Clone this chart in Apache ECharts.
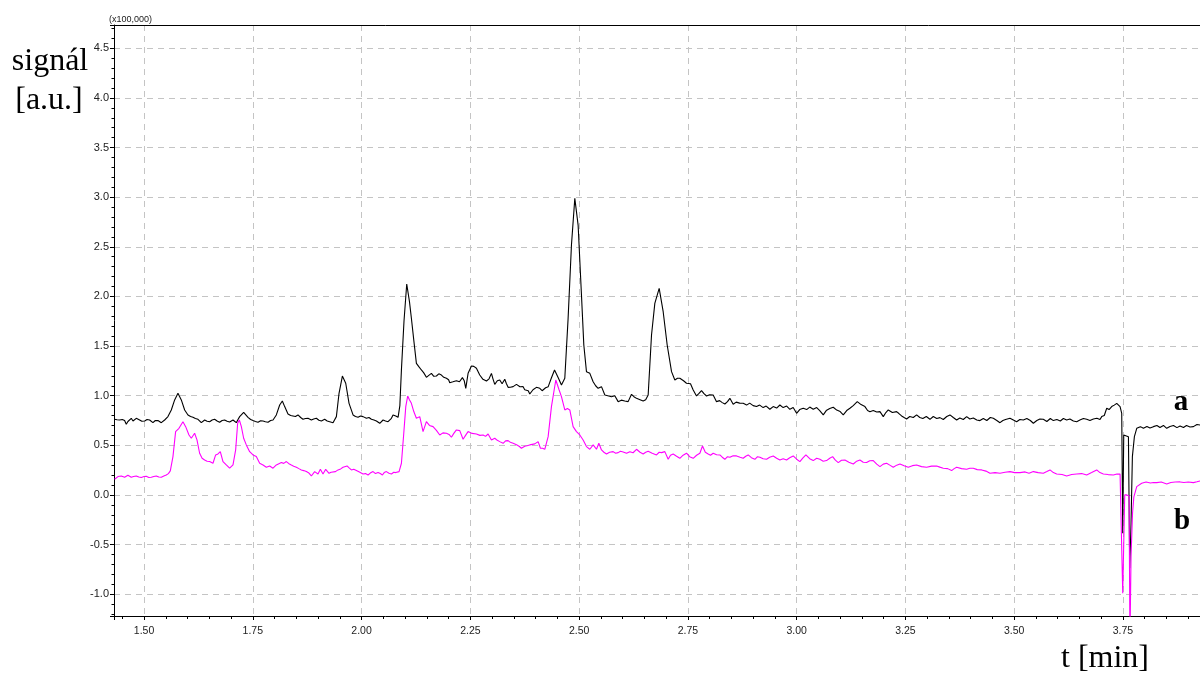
<!DOCTYPE html>
<html>
<head>
<meta charset="utf-8">
<script src="https://cdn.jsdelivr.net/npm/echarts@6/dist/echarts.min.js"></script>
<style>
  html, body { margin: 0; padding: 0; background: #fff; }
  #chart { width: 1200px; height: 675px; }
</style>
</head>
<body>
<div id="chart"></div>
<script>
// Chromatograms: retention time [min] vs. signal (units of 100,000)
const timeRange = [1.431, 3.927];
const signalRange = [-1.22, 4.735];
const timeStep = 0.25;
const signalStep = 0.5;

// trace a (black)
const traceA = [
  [1.4324,0.762],[1.4380,0.758],[1.4439,0.755],[1.4500,0.760],[1.4554,0.749],[1.4592,0.712],[1.4630,0.740],[1.4669,0.755],
  [1.4707,0.772],[1.4746,0.745],[1.4785,0.760],[1.4822,0.772],[1.4860,0.752],[1.4899,0.755],[1.4950,0.742],[1.5014,0.745],
  [1.5070,0.760],[1.5129,0.755],[1.5165,0.738],[1.5205,0.728],[1.5260,0.750],[1.5320,0.749],[1.5360,0.735],[1.5397,0.728],
  [1.5440,0.748],[1.5474,0.755],[1.5550,0.789],[1.5627,0.856],[1.5704,0.957],[1.5780,1.024],[1.5857,0.957],[1.5934,0.856],
  [1.6010,0.806],[1.6070,0.790],[1.6125,0.782],[1.6180,0.770],[1.6240,0.762],[1.6280,0.745],[1.6317,0.728],[1.6355,0.745],
  [1.6394,0.755],[1.6450,0.742],[1.6508,0.738],[1.6565,0.755],[1.6623,0.762],[1.6680,0.745],[1.6738,0.732],[1.6795,0.750],
  [1.6853,0.755],[1.6910,0.742],[1.6968,0.735],[1.7045,0.755],[1.7085,0.740],[1.7121,0.728],[1.7160,0.760],[1.7198,0.789],
  [1.7290,0.832],[1.7390,0.782],[1.7450,0.760],[1.7505,0.749],[1.7560,0.740],[1.7620,0.732],[1.7680,0.748],[1.7735,0.745],
  [1.7790,0.738],[1.7850,0.732],[1.7910,0.750],[1.7965,0.755],[1.8041,0.806],[1.8118,0.906],[1.8179,0.947],[1.8233,0.890],
  [1.8309,0.816],[1.8370,0.800],[1.8424,0.796],[1.8480,0.790],[1.8539,0.806],[1.8600,0.780],[1.8654,0.762],[1.8710,0.770],
  [1.8769,0.772],[1.8810,0.760],[1.8846,0.755],[1.8900,0.765],[1.8961,0.772],[1.9020,0.752],[1.9076,0.745],[1.9115,0.760],
  [1.9152,0.762],[1.9210,0.745],[1.9267,0.738],[1.9300,0.745],[1.9344,0.728],[1.9421,0.789],[1.9482,1.024],[1.9559,1.198],
  [1.9636,1.125],[1.9712,0.923],[1.9804,0.806],[1.9860,0.790],[1.9919,0.782],[1.9975,0.795],[2.0034,0.789],[2.0070,0.775],
  [2.0111,0.772],[2.0170,0.780],[2.0226,0.762],[2.0285,0.755],[2.0341,0.745],[2.0380,0.740],[2.0418,0.722],[2.0450,0.740],
  [2.0494,0.755],[2.0550,0.745],[2.0609,0.738],[2.0650,0.755],[2.0686,0.772],[2.0723,0.806],[2.0786,0.796],[2.0839,0.782],
  [2.0880,0.900],[2.0916,1.260],[2.0975,1.750],[2.1038,2.125],[2.1060,2.110],[2.1100,1.950],[2.1145,1.780],[2.1200,1.560],
  [2.1260,1.326],[2.1320,1.290],[2.1375,1.259],[2.1430,1.230],[2.1490,1.185],[2.1545,1.205],[2.1605,1.225],[2.1660,1.195],
  [2.1720,1.198],[2.1775,1.220],[2.1835,1.208],[2.1890,1.185],[2.1950,1.175],[2.2000,1.160],[2.2027,1.131],[2.2100,1.140],
  [2.2180,1.151],[2.2250,1.140],[2.2318,1.182],[2.2360,1.150],[2.2395,1.074],[2.2448,1.225],[2.2525,1.299],[2.2580,1.295],
  [2.2640,1.276],[2.2716,1.208],[2.2790,1.165],[2.2870,1.148],[2.2930,1.170],[2.2985,1.225],[2.3020,1.170],[2.3061,1.114],
  [2.3120,1.150],[2.3176,1.158],[2.3230,1.120],[2.3291,1.165],[2.3330,1.120],[2.3368,1.084],[2.3420,1.085],[2.3483,1.091],
  [2.3520,1.105],[2.3560,1.114],[2.3640,1.090],[2.3713,1.091],[2.3750,1.060],[2.3789,1.041],[2.3830,1.050],[2.3866,1.017],
  [2.3940,1.060],[2.4019,1.084],[2.4096,1.074],[2.4150,1.050],[2.4173,1.031],[2.4230,1.080],[2.4290,1.091],[2.4360,1.175],
  [2.4435,1.259],[2.4520,1.180],[2.4594,1.108],[2.4671,1.175],[2.4747,1.779],[2.4824,2.518],[2.4901,2.988],[2.4977,2.719],
  [2.5054,2.014],[2.5108,1.511],[2.5169,1.242],[2.5246,1.225],[2.5322,1.141],[2.5380,1.100],[2.5437,1.074],[2.5514,1.091],
  [2.5591,1.007],[2.5660,1.000],[2.5744,0.990],[2.5820,1.000],[2.5897,0.940],[2.5970,0.955],[2.6050,0.947],[2.6127,0.940],
  [2.6204,1.014],[2.6260,0.990],[2.6319,0.973],[2.6400,0.960],[2.6472,0.947],[2.6530,0.960],[2.6587,1.007],[2.6664,1.611],
  [2.6740,1.930],[2.6840,2.081],[2.6932,1.846],[2.7024,1.511],[2.7124,1.242],[2.7200,1.158],[2.7260,1.175],[2.7315,1.175],
  [2.7400,1.150],[2.7468,1.125],[2.7507,1.108],[2.7560,1.120],[2.7622,1.057],[2.7698,0.997],[2.7750,1.020],[2.7813,1.051],
  [2.7870,1.020],[2.7928,0.997],[2.8000,1.010],[2.8081,1.007],[2.8158,0.940],[2.8230,0.950],[2.8290,0.930],[2.8350,0.916],
  [2.8410,0.940],[2.8465,0.973],[2.8541,0.913],[2.8610,0.935],[2.8690,0.925],[2.8771,0.923],[2.8850,0.905],[2.8920,0.925],
  [2.9000,0.900],[2.9078,0.890],[2.9150,0.905],[2.9230,0.880],[2.9300,0.895],[2.9384,0.863],[2.9460,0.890],[2.9540,0.875],
  [2.9614,0.906],[2.9690,0.880],[2.9770,0.895],[2.9844,0.863],[2.9920,0.880],[2.9998,0.822],[3.0070,0.860],[3.0151,0.873],
  [3.0230,0.860],[3.0300,0.885],[3.0381,0.863],[3.0460,0.880],[3.0530,0.850],[3.0611,0.806],[3.0680,0.850],[3.0760,0.870],
  [3.0841,0.883],[3.0920,0.855],[3.1000,0.840],[3.1071,0.806],[3.1150,0.850],[3.1224,0.873],[3.1300,0.900],[3.1393,0.940],
  [3.1480,0.910],[3.1569,0.890],[3.1630,0.850],[3.1684,0.839],[3.1760,0.850],[3.1840,0.835],[3.1914,0.839],[3.1991,0.789],
  [3.2050,0.830],[3.2105,0.856],[3.2200,0.830],[3.2297,0.839],[3.2350,0.820],[3.2412,0.796],[3.2470,0.780],[3.2527,0.765],
  [3.2600,0.790],[3.2680,0.780],[3.2757,0.806],[3.2830,0.780],[3.2900,0.770],[3.2980,0.790],[3.3064,0.762],[3.3140,0.790],
  [3.3220,0.770],[3.3293,0.779],[3.3370,0.760],[3.3450,0.790],[3.3523,0.806],[3.3600,0.780],[3.3677,0.755],[3.3750,0.775],
  [3.3830,0.760],[3.3907,0.789],[3.3980,0.765],[3.4060,0.775],[3.4140,0.755],[3.4213,0.749],[3.4290,0.770],[3.4370,0.750],
  [3.4450,0.780],[3.4520,0.772],[3.4600,0.750],[3.4673,0.728],[3.4740,0.750],[3.4800,0.760],[3.4903,0.772],[3.4980,0.755],
  [3.5056,0.738],[3.5130,0.760],[3.5210,0.755],[3.5290,0.770],[3.5370,0.750],[3.5440,0.722],[3.5520,0.750],[3.5590,0.765],
  [3.5669,0.762],[3.5750,0.740],[3.5830,0.770],[3.5899,0.749],[3.5980,0.760],[3.6060,0.745],[3.6130,0.770],[3.6206,0.755],
  [3.6280,0.765],[3.6360,0.745],[3.6436,0.738],[3.6510,0.755],[3.6590,0.770],[3.6666,0.762],[3.6740,0.750],[3.6820,0.765],
  [3.6900,0.772],[3.6972,0.760],[3.7011,0.789],[3.7070,0.800],[3.7126,0.873],[3.7180,0.860],[3.7241,0.890],[3.7300,0.905],
  [3.7356,0.923],[3.7400,0.910],[3.7433,0.890],[3.7471,0.822],[3.7494,-0.386],[3.7517,0.604],[3.7625,0.587],[3.7655,-0.739],
  [3.7685,-0.285],[3.7716,0.386],[3.7762,0.587],[3.7816,0.671],[3.7900,0.688],[3.7969,0.671],[3.8050,0.690],[3.8120,0.675],
  [3.8199,0.688],[3.8280,0.700],[3.8350,0.680],[3.8430,0.700],[3.8505,0.671],[3.8580,0.690],[3.8660,0.700],[3.8740,0.678],
  [3.8812,0.695],[3.8890,0.680],[3.8960,0.700],[3.9040,0.685],[3.9118,0.688],[3.9200,0.710],[3.9272,0.705]
];

// trace b (magenta)
const traceB = [
  [1.4324,0.158],[1.4401,0.185],[1.4478,0.191],[1.4554,0.178],[1.4630,0.198],[1.4707,0.178],[1.4760,0.185],[1.4822,0.191],
  [1.4880,0.180],[1.4937,0.175],[1.5000,0.185],[1.5052,0.188],[1.5110,0.176],[1.5167,0.178],[1.5225,0.186],[1.5282,0.191],
  [1.5340,0.180],[1.5397,0.178],[1.5455,0.190],[1.5512,0.201],[1.5560,0.215],[1.5604,0.242],[1.5665,0.386],[1.5726,0.638],
  [1.5803,0.671],[1.5841,0.688],[1.5895,0.738],[1.5957,0.688],[1.6033,0.604],[1.6087,0.571],[1.6163,0.621],[1.6217,0.554],
  [1.6278,0.420],[1.6335,0.370],[1.6393,0.352],[1.6450,0.340],[1.6508,0.336],[1.6585,0.319],[1.6646,0.403],[1.6700,0.413],
  [1.6753,0.436],[1.6815,0.336],[1.6891,0.302],[1.6968,0.269],[1.7045,0.302],[1.7106,0.453],[1.7152,0.722],[1.7191,0.755],
  [1.7237,0.688],[1.7290,0.571],[1.7351,0.504],[1.7428,0.436],[1.7505,0.403],[1.7581,0.386],[1.7658,0.319],[1.7735,0.302],
  [1.7811,0.279],[1.7888,0.292],[1.7965,0.269],[1.8041,0.302],[1.8100,0.315],[1.8156,0.326],[1.8210,0.318],[1.8271,0.336],
  [1.8330,0.315],[1.8386,0.302],[1.8440,0.290],[1.8501,0.279],[1.8560,0.265],[1.8616,0.252],[1.8670,0.245],[1.8731,0.235],
  [1.8790,0.220],[1.8846,0.191],[1.8922,0.235],[1.8960,0.215],[1.8999,0.211],[1.9053,0.258],[1.9114,0.211],[1.9175,0.258],
  [1.9252,0.218],[1.9300,0.228],[1.9344,0.211],[1.9400,0.235],[1.9459,0.252],[1.9520,0.262],[1.9574,0.279],[1.9666,0.292],
  [1.9720,0.270],[1.9766,0.252],[1.9820,0.258],[1.9881,0.245],[1.9950,0.230],[2.0034,0.211],[2.0090,0.215],[2.0149,0.201],
  [2.0200,0.220],[2.0264,0.235],[2.0320,0.215],[2.0379,0.225],[2.0430,0.215],[2.0479,0.201],[2.0520,0.225],[2.0571,0.235],
  [2.0630,0.218],[2.0686,0.211],[2.0740,0.228],[2.0786,0.225],[2.0830,0.215],[2.0862,0.235],[2.0916,0.319],[2.0970,0.621],
  [2.1016,0.890],[2.1060,0.997],[2.1100,0.960],[2.1145,0.923],[2.1200,0.840],[2.1260,0.772],[2.1337,0.789],[2.1413,0.638],
  [2.1490,0.739],[2.1560,0.700],[2.1643,0.688],[2.1720,0.650],[2.1797,0.604],[2.1870,0.625],[2.1950,0.621],[2.2010,0.610],
  [2.2065,0.581],[2.2120,0.620],[2.2180,0.655],[2.2257,0.648],[2.2333,0.561],[2.2390,0.600],[2.2448,0.638],[2.2540,0.620],
  [2.2640,0.614],[2.2720,0.600],[2.2793,0.604],[2.2850,0.590],[2.2908,0.614],[2.2985,0.554],[2.3061,0.571],[2.3120,0.550],
  [2.3176,0.537],[2.3253,0.520],[2.3310,0.545],[2.3368,0.547],[2.3420,0.530],[2.3483,0.520],[2.3560,0.505],[2.3620,0.490],
  [2.3674,0.470],[2.3750,0.490],[2.3800,0.495],[2.3866,0.504],[2.3981,0.514],[2.4058,0.537],[2.4111,0.470],[2.4160,0.470],
  [2.4211,0.460],[2.4288,0.587],[2.4364,0.890],[2.4464,1.158],[2.4541,1.057],[2.4594,0.990],[2.4671,0.856],[2.4730,0.870],
  [2.4786,0.856],[2.4862,0.688],[2.4939,0.638],[2.5016,0.604],[2.5092,0.554],[2.5169,0.487],[2.5246,0.460],[2.5323,0.504],
  [2.5399,0.460],[2.5453,0.520],[2.5514,0.453],[2.5570,0.430],[2.5629,0.413],[2.5700,0.430],[2.5782,0.436],[2.5840,0.420],
  [2.5897,0.426],[2.5950,0.440],[2.6012,0.433],[2.6090,0.420],[2.6166,0.436],[2.6240,0.425],[2.6319,0.460],[2.6400,0.430],
  [2.6472,0.413],[2.6530,0.430],[2.6587,0.440],[2.6680,0.420],[2.6779,0.403],[2.6840,0.430],[2.6894,0.426],[2.6970,0.436],
  [2.7047,0.359],[2.7100,0.400],[2.7162,0.413],[2.7240,0.390],[2.7315,0.369],[2.7390,0.400],[2.7468,0.420],[2.7540,0.385],
  [2.7622,0.369],[2.7700,0.400],[2.7775,0.420],[2.7836,0.493],[2.7900,0.430],[2.7966,0.413],[2.8020,0.400],[2.8081,0.420],
  [2.8160,0.405],[2.8235,0.403],[2.8290,0.380],[2.8350,0.359],[2.8410,0.385],[2.8465,0.379],[2.8540,0.395],[2.8618,0.393],
  [2.8700,0.380],[2.8771,0.369],[2.8830,0.390],[2.8886,0.403],[2.8960,0.375],[2.9040,0.359],[2.9100,0.385],[2.9155,0.379],
  [2.9230,0.365],[2.9308,0.359],[2.9380,0.380],[2.9461,0.393],[2.9540,0.370],[2.9614,0.352],[2.9690,0.365],[2.9768,0.352],
  [2.9840,0.375],[2.9921,0.393],[3.0000,0.360],[3.0074,0.336],[3.0140,0.370],[3.0212,0.403],[3.0300,0.365],[3.0381,0.346],
  [3.0460,0.370],[3.0534,0.359],[3.0610,0.340],[3.0687,0.346],[3.0760,0.370],[3.0826,0.386],[3.0890,0.350],[3.0956,0.326],
  [3.1030,0.350],[3.1109,0.352],[3.1200,0.330],[3.1301,0.312],[3.1380,0.340],[3.1454,0.352],[3.1530,0.330],[3.1607,0.326],
  [3.1680,0.345],[3.1760,0.346],[3.1840,0.310],[3.1914,0.285],[3.1990,0.310],[3.2067,0.319],[3.2140,0.300],[3.2220,0.279],
  [3.2300,0.300],[3.2374,0.312],[3.2470,0.295],[3.2565,0.279],[3.2660,0.295],[3.2757,0.302],[3.2870,0.285],[3.2987,0.279],
  [3.3100,0.290],[3.3217,0.292],[3.3290,0.280],[3.3370,0.269],[3.3470,0.265],[3.3562,0.245],[3.3620,0.265],[3.3677,0.279],
  [3.3790,0.265],[3.3907,0.258],[3.3980,0.268],[3.4060,0.269],[3.4150,0.255],[3.4252,0.252],[3.4350,0.240],[3.4443,0.218],
  [3.4560,0.225],[3.4673,0.218],[3.4790,0.228],[3.4903,0.235],[3.5010,0.225],[3.5133,0.225],[3.5250,0.232],[3.5340,0.218],
  [3.5440,0.235],[3.5550,0.225],[3.5669,0.218],[3.5750,0.235],[3.5823,0.252],[3.5900,0.225],[3.5976,0.211],[3.6100,0.205],
  [3.6206,0.191],[3.6320,0.205],[3.6436,0.211],[3.6550,0.215],[3.6666,0.201],[3.6780,0.225],[3.6896,0.252],[3.6970,0.225],
  [3.7049,0.211],[3.7160,0.205],[3.7279,0.201],[3.7360,0.210],[3.7433,0.211],[3.7470,0.205],[3.7494,-0.990],[3.7540,0.000],
  [3.7586,0.000],[3.7640,-0.010],[3.7660,-1.500],[3.7685,-0.620],[3.7720,-0.180],[3.7750,-0.020],[3.7816,0.084],[3.7930,0.117],
  [3.8030,0.130],[3.8130,0.120],[3.8200,0.125],[3.8275,0.124],[3.8380,0.130],[3.8505,0.111],[3.8600,0.125],[3.8700,0.130],
  [3.8812,0.131],[3.8900,0.125],[3.9000,0.130],[3.9118,0.124],[3.9200,0.132],[3.9272,0.141]
];

const traceNames = ['a', 'b'];
const traceColors = ['#000000', '#ff00ff'];

const sansFont = '"Liberation Sans", Arial, sans-serif';
const serifFont = '"Liberation Serif", "Times New Roman", serif';

function isStep(v, step) {
  const k = v / step;
  return Math.abs(k - Math.round(k)) < 1e-6;
}

const gridLine = { show: true, showMinLine: false, showMaxLine: false,
  lineStyle: { color: '#c4c4c4', type: [6, 5], width: 1 } };

const chart = echarts.init(document.getElementById('chart'), null, { renderer: 'canvas' });
chart.setOption({
  animation: false,
  backgroundColor: '#ffffff',
  grid: { left: 114, right: 0, top: 25, bottom: 59, containLabel: false, outerBoundsMode: 'none' },
  xAxis: [{
    type: 'value',
    min: timeRange[0], max: timeRange[1],
    minInterval: timeStep, maxInterval: timeStep,
    axisLine: { show: true, onZero: false, lineStyle: { color: '#000', width: 1 } },
    axisTick: { show: true, inside: false, length: 4, lineStyle: { color: '#000' } },
    minorTick: { show: true, splitNumber: 5, length: 3, lineStyle: { color: '#000' } },
    axisLabel: {
      margin: 10, color: '#222', fontFamily: sansFont, fontSize: 10.5,
      showMinLabel: true, showMaxLabel: true,
      formatter: v => isStep(v, timeStep) ? v.toFixed(2) : ''
    },
    splitLine: gridLine
  }, {
    type: 'value', position: 'top',
    min: timeRange[0], max: timeRange[1],
    axisLine: { show: true, onZero: false, lineStyle: { color: '#000', width: 1 } },
    axisTick: { show: false }, axisLabel: { show: false }, splitLine: { show: false }
  }],
  yAxis: {
    type: 'value',
    min: signalRange[0], max: signalRange[1],
    minInterval: signalStep, maxInterval: signalStep,
    axisLine: { show: true, onZero: false, lineStyle: { color: '#000', width: 1 } },
    axisTick: { show: true, inside: false, length: 4, lineStyle: { color: '#000' } },
    minorTick: { show: true, splitNumber: 5, length: 2.5, lineStyle: { color: '#000' } },
    axisLabel: {
      margin: 5, color: '#222', fontFamily: sansFont, fontSize: 11,
      formatter: v => isStep(v, signalStep) ? v.toFixed(1) : ''
    },
    splitLine: gridLine
  },
  series: [traceA, traceB].map((d, i) => ({
    name: traceNames[i],
    type: 'line',
    xAxisIndex: 0,
    data: d,
    showSymbol: false,
    symbol: 'none',
    clip: true,
    sampling: null,
    lineStyle: { color: traceColors[i], width: 1.1 },
    z: 3 + i
  })),
  graphic: [
    { type: 'text', x: 109, y: 19.5, style: { text: '(x100,000)', font: '9px ' + sansFont, fill: '#222', align: 'left', verticalAlign: 'middle' } },
    { type: 'text', x: 50, y: 62, style: { text: 'signál', font: '32px ' + serifFont, fill: '#000', align: 'center', verticalAlign: 'middle' } },
    { type: 'text', x: 49, y: 101, style: { text: '[a.u.]', font: '32px ' + serifFont, fill: '#000', align: 'center', verticalAlign: 'middle' } },
    { type: 'text', x: 1105, y: 659, style: { text: 't [min]', font: '32px ' + serifFont, fill: '#000', align: 'center', verticalAlign: 'middle' } },
    { type: 'text', x: 1181, y: 403, style: { text: 'a', font: 'bold 29px ' + serifFont, fill: '#000', align: 'center', verticalAlign: 'middle' } },
    { type: 'text', x: 1182, y: 522, style: { text: 'b', font: 'bold 29px ' + serifFont, fill: '#000', align: 'center', verticalAlign: 'middle' } }
  ]
});
</script>
</body>
</html>
